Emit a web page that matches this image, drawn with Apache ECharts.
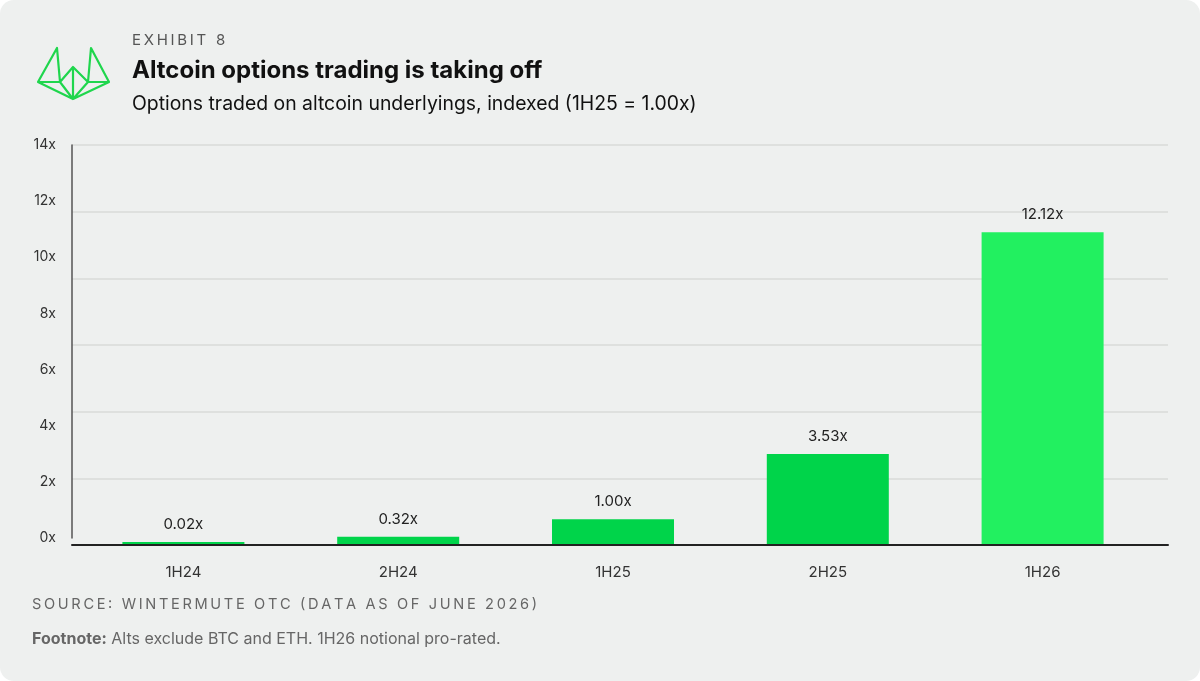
<!DOCTYPE html>
<html><head><meta charset="utf-8">
<script src="https://cdn.jsdelivr.net/npm/echarts@6/dist/echarts.min.js"></script>
<style>html,body{margin:0;background:#fff}#c{width:1200px;height:681px}</style>
</head><body><div id="c"></div>
<script>
const categories = ['1H24','2H24','1H25','2H25','1H26'];
const values = [0.02, 0.32, 1.00, 3.53, 12.12];
const labels = ['0.02x','0.32x','1.00x','3.53x','12.12x'];
const barColors = ['#00d44a','#00d44a','#00d44a','#00d44a','#22f060'];
const F = 'Inter, "Noto Sans", sans-serif';
const sp = (s, j) => s.split('').join(j || '\u2009');
const chart = echarts.init(document.getElementById('c'));
const G = '#1fd64d';
chart.setOption({
  backgroundColor: '#ffffff',
  graphic: [
    {type:'rect', shape:{x:0,y:0,width:1200,height:681,r:14}, style:{fill:'#eef0ef'}, z:-10},
    {type:'polyline', shape:{points:[[38,82],[57,48],[60,82],[73,67],[88,82],[91,48],[109,82],[73,99],[38,82],[60,82],[73,99],[88,82],[109,82]]}, style:{stroke:G,lineWidth:2.2,fill:null,lineJoin:'round'}},
    {type:'line', shape:{x1:73,y1:67,x2:73,y2:99}, style:{stroke:G,lineWidth:2.2}},
    {type:'text', left:132, top:33, style:{text:sp('EXHIBIT 8'), font:'15px '+F, fill:'#555'}},
    {type:'text', left:132, top:59, style:{text:'Altcoin options trading is taking off', font:'bold 24px '+F, fill:'#111'}},
    {type:'text', left:132, top:95, style:{text:'Options traded on altcoin underlyings, indexed (1H25 = 1.00x)', font:'19.4px '+F, fill:'#111'}},
    {type:'text', left:32, top:597, style:{text:sp('SOURCE: WINTERMUTE OTC (DATA AS OF JUNE 2026)'), font:'14.6px '+F, fill:'#666'}},
    {type:'text', left:32, top:631, style:{rich:{b:{font:'bold 16px '+F,fill:'#666'},n:{font:'16px '+F,fill:'#666'}}, text:'{b|Footnote:}{n| Alts exclude BTC and ETH. 1H26 notional pro-rated.}'}}
  ],
  grid: [
    {left:76, right:50, top:145, height:400},
    {left:72, right:32, top:145, height:393},
    {left:72, right:32, top:145, height:400}
  ],
  xAxis: [
    {type:'category', gridIndex:0, data:categories, axisTick:{show:false}, axisLine:{show:false},
     axisLabel:{color:'#333', fontFamily:F, fontSize:15, margin:20}},
    {type:'category', gridIndex:1, data:categories, show:false},
    {type:'category', gridIndex:2, data:categories, axisTick:{show:false}, axisLabel:{show:false},
     axisLine:{lineStyle:{color:'#222',width:2}}, z:5}
  ],
  yAxis: [
    {type:'value', gridIndex:0, min:0, max:15.5, show:false, splitLine:{show:false}},
    {type:'value', gridIndex:2, min:0, max:6, interval:1, axisLabel:{show:false}, axisLine:{show:false}, axisTick:{show:false},
     splitLine:{lineStyle:{color:'#d8dbd9',width:1.5}}},
    {type:'value', gridIndex:1, min:0, max:14, interval:2, splitLine:{show:false}, axisTick:{show:false},
     axisLine:{show:true,lineStyle:{color:'#555',width:1.5}},
     axisLabel:{color:'#333', fontFamily:F, fontSize:14, margin:16, formatter:v=>v+'x'}}
  ],
  series: [{
    type:'bar', xAxisIndex:0, yAxisIndex:0, barWidth:122, barMinHeight:3,
    data: values.map((v,i)=>({value:v, itemStyle:{color:barColors[i]}})),
    label:{show:true, position:'top', distance:10, color:'#222', fontFamily:F, fontSize:15, formatter:p=>labels[p.dataIndex]}
  }]
});
</script></body></html>
